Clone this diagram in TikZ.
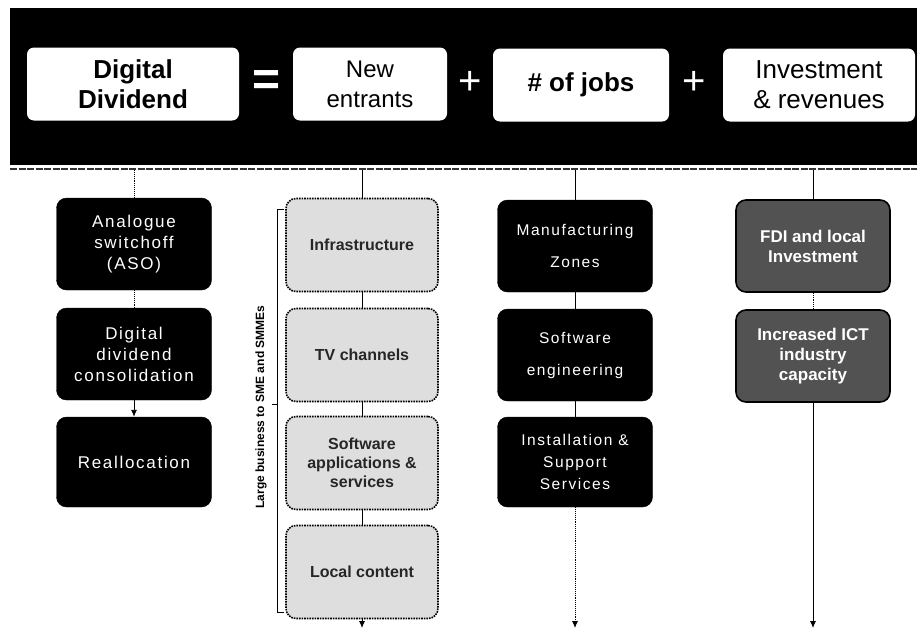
\documentclass[tikz,border=0pt]{standalone}
\usepackage{fontspec}
\setmainfont{Liberation Sans}
\newfontfamily\spacedfont{Liberation Sans}[LetterSpace=10]
\usetikzlibrary{arrows.meta}

\tikzset{
    headbox/.style={rectangle, rounded corners=7, fill=white, minimum height=73,
        inner sep=0pt, align=center, font=\fontsize{26}{30}\selectfont},
    sign/.style={text=white, inner sep=0pt},
    darkbox/.style={rectangle, rounded corners=10, fill=black, draw=black,
        minimum width=155, minimum height=92, inner sep=0pt, align=center, text=white},
    dotbox/.style={rectangle, rounded corners=10, fill=black!13, draw=black,
        densely dotted, line width=1.6, minimum width=152, minimum height=93,
        inner sep=0pt, align=center, text=black!85,
        font=\bfseries\fontsize{16}{19}\selectfont},
    greybox/.style={rectangle, rounded corners=10, fill=black!68, draw=black,
        line width=1.6, minimum width=154, minimum height=92, inner sep=0pt,
        align=center, text=white, font=\bfseries\fontsize{17}{20}\selectfont},
    link/.style={line width=0.9},
    tip/.style={-{Latex[length=7,width=6]}}
}

\begin{document}
\begin{tikzpicture}[x=1pt, y=-1pt]
    \useasboundingbox (0,0) rectangle (917,632);

    % header band
    \fill (10,8) rectangle (917,165);
    \draw[dash pattern=on 7pt off 1.5pt, line width=1.6, black!80] (10,169) -- (917,169);
    \node[headbox, minimum width=212] (dd) at (133,84)
        {\bfseries Digital\\\bfseries Dividend};
    \node[sign, font=\bfseries\fontsize{48}{48}\selectfont] (eq) at (267,83) {=};
    \node[headbox, minimum width=154, font=\fontsize{24}{30}\selectfont] (ne) at (370,84)
        {New\\entrants};
    \node[sign, font=\fontsize{40}{40}\selectfont] (p1) at (470,83) {+};
    \node[headbox, minimum width=176, font=\bfseries\fontsize{26}{30}\selectfont] (jobs) at (581,85)
        {\# of jobs};
    \node[sign, font=\fontsize{40}{40}\selectfont] (p2) at (694,83) {+};
    \node[headbox, minimum width=192] (inv) at (819,85)
        {Investment\\\& revenues};

    % columns
    \foreach \n/\x in {c1/134,c2/362,c3/575,c4/813}
        \coordinate (\n) at (\x,170);
    \foreach \n/\x in {e2/362,e3/575,e4/813}
        \coordinate (\n) at (\x,628);

    \node[darkbox, font=\spacedfont\fontsize{17}{21}\selectfont] (aso) at (134,244)
        {Analogue\\switchoff\\(ASO)};
    \node[darkbox, font=\spacedfont\fontsize{17}{21}\selectfont] (ddc) at (134,354)
        {Digital\\dividend\\consolidation};
    \node[darkbox, minimum height=90, font=\spacedfont\fontsize{17}{21}\selectfont] (realloc) at (134,462)
        {Reallocation};

    \node[dotbox] (nb1) at (362,245) {Infrastructure};
    \node[dotbox] (nb2) at (362,355) {TV channels};
    \node[dotbox] (nb3) at (362,463) {Software\\applications \&\\services};
    \node[dotbox] (nb4) at (362,572) {Local content};

    \node[darkbox, font=\spacedfont\fontsize{15.5}{32}\selectfont] (mz) at (575,246)
        {Manufacturing\\Zones};
    \node[darkbox, font=\spacedfont\fontsize{15.5}{32}\selectfont] (se) at (575,355)
        {Software\\engineering};
    \node[darkbox, minimum height=90, font=\spacedfont\fontsize{15.5}{22}\selectfont] (isv) at (575,462)
        {Installation \&\\Support\\Services};

    \node[greybox] (fdi) at (813,246) {FDI and local\\Investment};
    \node[greybox] (ict) at (813,356) {Increased ICT\\industry\\capacity};

    % connectors
    \draw[link, densely dotted] (c1) -- (aso);
    \draw[link, densely dotted] (aso) -- (ddc);
    \draw[link, tip] (ddc) -- (realloc);
    \draw[link] (c2) -- (nb1);
    \foreach \a/\b in {nb1/nb2,nb2/nb3,nb3/nb4}
        \draw[link] (\a) -- (\b);
    \draw[link, tip] (nb4) -- (e2);
    \draw[link] (c3) -- (mz);
    \draw[link] (mz) -- (se);
    \draw[link] (se) -- (isv);
    \draw[link, densely dotted, tip] (isv) -- (e3);
    \draw[link] (c4) -- (fdi);
    \draw[link, densely dotted] (fdi) -- (ict);
    \draw[link, tip] (ict) -- (e4);

    % bracket
    \draw[line width=1] (284,209) -- (277,209) -- (277,612) -- (284,612);
    \draw[line width=1] (277,404) -- (272,404);
    \node[rotate=90, font=\bfseries\fontsize{12}{12}\selectfont] (lbl) at (261,407)
        {Large business to SME and SMMEs};
\end{tikzpicture}
\end{document}
